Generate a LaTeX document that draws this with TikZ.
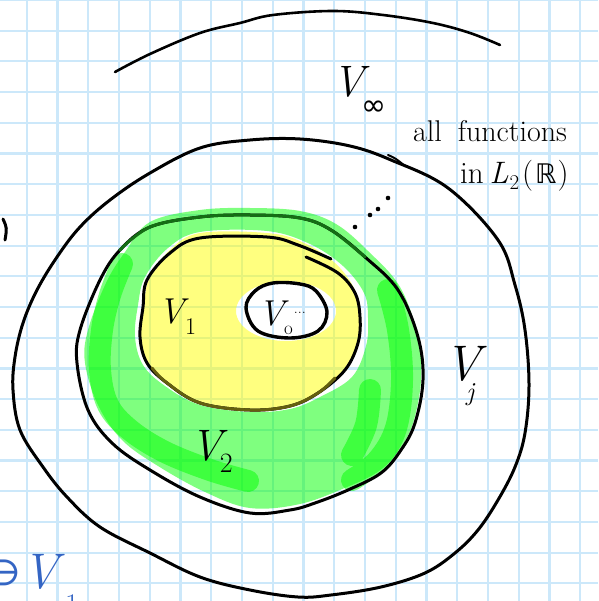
\documentclass[tikz,border=0pt]{standalone}
\usepackage{fontspec}
\newfontfamily\symf{DejaVu Sans}
\definecolor{gridblue}{RGB}{204,232,250}
\definecolor{hlgreen}{RGB}{0,255,0}
\definecolor{hlyellow}{RGB}{255,255,0}
\definecolor{inkblue}{RGB}{52,101,196}
\definecolor{darkgreenink}{RGB}{20,110,20}
\definecolor{oliveink}{RGB}{100,95,15}
\newcommand{\fs}[1]{\fontsize{#1}{#1}\selectfont}
\begin{document}
\begin{tikzpicture}[x=1pt,y=-1pt,
  gridline/.style={draw=gridblue, line width=2.2pt},
  ink/.style={draw=black, line width=3pt, line cap=round, line join=round},
  thinink/.style={draw=black, line width=2.6pt, line cap=round, line join=round},
  greenhl/.style={fill=hlgreen, fill opacity=.5},
  greenband/.style={draw=hlgreen, draw opacity=.5, line cap=round, line join=round},
  yellowhl/.style={fill=hlyellow, fill opacity=.5},
  lab/.style={inner sep=0pt, outer sep=0pt, anchor=base west, text=black}]
\useasboundingbox (0,0) rectangle (598,601);
\fill[white] (0,0) rectangle (598,601);
% grid paper
\foreach \k in {0,...,18} \draw[gridline] ({26.7+30.75*\k},0) -- ({26.7+30.75*\k},601);
\foreach \k in {0,...,19} \draw[gridline] (0,{30.7*\k}) -- (598,{30.7*\k});
% green highlight (annulus)
\fill[greenhl, even odd rule]
  plot[smooth cycle, tension=.6] coordinates {(150,222) (200,210) (250,208) (300,211) (336,224) (368,251) (400,287) (418,337) (421,380) (413,423) (399,450) (379,471) (347,487) (300,504) (250,508) (205,492) (158,466) (122,440) (98,405) (85,363) (88,330) (106,283) (125,252)}
  plot[smooth cycle, tension=.6] coordinates {(168,248) (200,232) (267,231) (310,244) (343,266) (364,293) (368,318) (366,346) (352,377) (320,397) (290,409) (250,412) (200,405) (165,386) (143,365) (135,337) (138,305) (145,277)};
% darker (double) highlight bands
\draw[greenband, line width=22pt]
  plot[smooth, tension=.6] coordinates {(122,264) (110,295) (102,330) (100,370) (108,405) (130,430) (165,452) (210,470) (248,481)}
  plot[smooth, tension=.6] coordinates {(388,290) (398,330) (402,380) (396,428) (378,460) (352,480)}
  plot[smooth, tension=.6] coordinates {(370,390) (366,425) (352,455)};
% yellow highlight with white patch round V0
\fill[yellowhl, even odd rule]
  plot[smooth cycle, tension=.6] coordinates {(170,250) (200,233) (267,233) (302,242) (335,263) (355,290) (361,317) (358,343) (345,370) (318,393) (290,406) (250,410) (200,403) (167,383) (147,363) (141,337) (144,307) (149,279)}
  (286,311) ellipse [x radius=50pt, y radius=30pt];
% top arc (V infinity)
\draw[thinink] plot[smooth, tension=.6] coordinates {(115,72) (150,54) (200,33) (240,23) (273,15) (333,11) (383,15) (433,23) (470,33) (500,45)};
% outer ellipse (V_j)
\draw[ink] plot[smooth cycle, tension=.6] coordinates {(300,139) (350,146) (391,160) (448,188) (498,240) (515,285) (525,330) (529,385) (525,433) (515,467) (498,500) (478,530) (455,553) (425,573) (381,587) (331,595) (298,597) (250,590) (200,577) (150,553) (100,527) (67,497) (43,467) (20,430) (13,390) (15,357) (23,323) (37,290) (57,257) (80,227) (110,200) (150,173) (200,148) (250,140)};
\draw[draw=black, line width=2pt, line cap=round] (388,155) .. controls (395,158) .. (405,166);
% V2 ellipse
\draw[ink] plot[smooth cycle, tension=.6] coordinates {(150,227) (200,217) (250,215) (300,218) (331,230) (365,257) (398,290) (418,337) (423,380) (415,423) (401,450) (381,473) (348,490) (315,503) (290,510) (250,513) (200,497) (150,470) (112,443) (88,410) (77,363) (80,330) (100,280) (120,250)};
\draw[draw=darkgreenink, line width=3pt, line cap=round] plot[smooth, tension=.6] coordinates {(120,250) (150,227) (200,217) (250,215) (300,218) (331,230) (365,257)};
% V1 ellipse
\draw[ink] plot[smooth, tension=.6] coordinates {(306,257) (338,273) (355,293) (360,317) (358,343) (345,370) (318,393) (290,406) (250,410) (200,403) (167,383) (147,363) (140,337) (143,307) (147,280) (170,253) (200,238) (267,237) (298,245) (331,259)};
\draw[draw=oliveink, line width=3pt, line cap=round] plot[smooth, tension=.6] coordinates {(335,378) (318,393) (290,406) (250,410) (200,403) (167,383) (152,368)};
% V0 ellipse
\draw[ink, line width=3.4pt] plot[smooth cycle, tension=.6] coordinates {(246,308) (255,291) (273,283) (300,284) (316,291) (327,312) (318,331) (290,338) (258,331)};
% dots
\foreach \p in {(355,227),(370,215),(378,209),(388,198)} \fill[black] \p circle (2.3pt);
% stroke cut by the left edge
\draw[draw=black, line width=3pt, line cap=round] (3,219) .. controls (7,228) .. (5,240);
% labels
\node[lab, font=\fs{44}\itshape] (vinf) at (332,97) {V\kern-2pt\raisebox{-19pt}{\symf\upshape\fs{30}∞}};
\node[lab, font=\fs{30}] (allf) at (413,142) {all\hspace{16pt}functions};
\node[lab, font=\fs{31}] (inl) at (460,184) {in\hspace{6pt}\textit{L}\kern1pt\raisebox{-6pt}{\fs{21}2}\kern3pt(\kern2pt{\symf\fs{27}ℝ}\kern1pt)};
\node[lab, font=\fs{36}\itshape] (vone) at (158,323) {V\kern1pt\raisebox{-11pt}{\upshape\fs{24}1}};
\node[lab, font=\fs{36}\itshape] (vzero) at (258,325) {V\kern0pt\raisebox{-9pt}{\upshape\fs{19}o}\kern1pt\raisebox{12pt}{\upshape\fs{16}...}};
\node[lab, font=\fs{44}\itshape] (vtwo) at (190,460) {V\kern-2pt\raisebox{-12pt}{\upshape\fs{28}2}};
\node[lab, font=\fs{50}\itshape] (vj) at (444,380) {V\kern-14pt\raisebox{-20pt}{\fs{26}j}};
\node[lab, text=inkblue, font=\fs{50}] (blue) at (-10,588) {\raisebox{3pt}{\symf\fs{36}∋}\kern1pt\textit{V}\raisebox{-26pt}{\fs{30}1}};
\end{tikzpicture}
\end{document}
